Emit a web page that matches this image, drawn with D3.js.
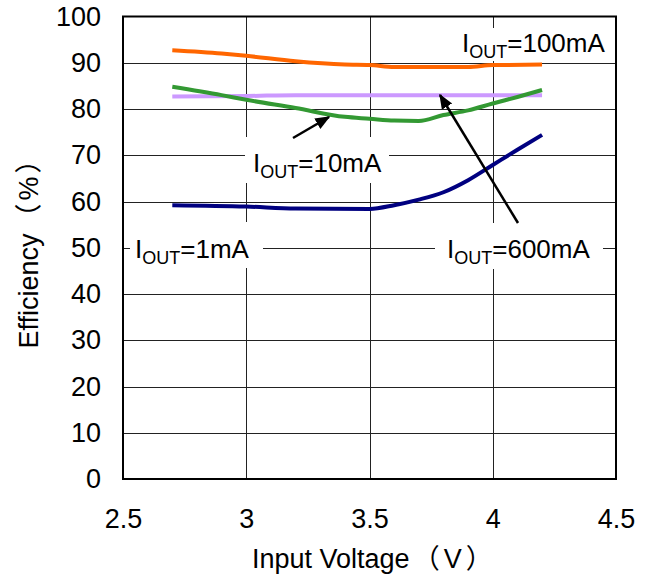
<!DOCTYPE html>
<html>
<head>
<meta charset="utf-8">
<script src="https://cdn.jsdelivr.net/npm/d3@7"></script>
<style>
  html, body { margin: 0; padding: 0; background: #fff; }
  svg { display: block; }
</style>
</head>
<body>
<svg id="chart" width="656" height="576"></svg>
<script>
// Efficiency vs input voltage, one curve per load current
const xTicks = [2.5, 3, 3.5, 4, 4.5];
const yTicks = [0, 10, 20, 30, 40, 50, 60, 70, 80, 90, 100];

const vin100 = [2.7, 2.9, 3.0, 3.2, 3.4, 3.5, 3.6, 3.8, 3.9, 4.0, 4.2];
const eff100 = [92.7, 92.0, 91.5, 90.3, 89.6, 89.5, 89.1, 89.1, 89.1, 89.5, 89.6];

const vin600 = [2.7, 3.0, 3.2, 3.5, 4.0, 4.2];
const eff600 = [82.7, 82.8, 83.0, 83.0, 83.0, 83.0];

const vin10 = [2.7, 2.9, 3.0, 3.2, 3.4, 3.5, 3.6, 3.7, 3.8, 3.9, 4.0, 4.1, 4.2];
const eff10 = [84.8, 83.0, 82.0, 80.2, 78.3, 77.9, 77.5, 77.4, 78.7, 79.7, 81.2, 82.6, 84.1];

const vin1 = [2.7, 3.0, 3.2, 3.5, 3.6, 3.7, 3.8, 3.9, 4.0, 4.1, 4.2];
const eff1 = [59.2, 58.9, 58.5, 58.4, 59.2, 60.4, 62.0, 64.6, 67.9, 71.2, 74.4];

const seriesNames = ["100mA", "600mA", "10mA", "1mA"];
const seriesColors = ["#ff6600", "#cc99ff", "#339933", "#000080"];

const svg = d3.select("#chart");
const plotL = 123, plotR = 616, plotT = 16.5, plotB = 479;

const x = d3.scaleLinear().domain([2.5, 4.5]).range([plotL, plotR]);
const y = d3.scaleLinear().domain([0, 100]).range([plotB, plotT]);

const FONT = "'Liberation Sans', Arial, sans-serif";
const TITLE_FONT = "'Liberation Sans', 'Noto Sans CJK SC', sans-serif";

// grid
const grid = svg.append("g").attr("stroke", "#222").attr("stroke-width", 1);
grid.selectAll("line.h").data(yTicks.filter(d => d > 0 && d < 100)).join("line")
  .attr("x1", plotL).attr("x2", plotR)
  .attr("y1", d => Math.round(y(d)) + 0.5).attr("y2", d => Math.round(y(d)) + 0.5);
grid.selectAll("line.v").data(xTicks.filter(d => d > 2.5 && d < 4.5)).join("line")
  .attr("y1", plotT).attr("y2", plotB)
  .attr("x1", d => Math.round(x(d)) + 0.5).attr("x2", d => Math.round(x(d)) + 0.5);

// axes (tick labels only; the frame is drawn separately)
const yAxis = svg.append("g").attr("transform", `translate(${plotL},0)`)
  .call(d3.axisLeft(y).tickValues(yTicks).tickSize(0).tickPadding(22));
yAxis.select(".domain").remove();
yAxis.selectAll("text").attr("font-family", FONT).attr("font-size", 27).attr("fill", "#000");

const xAxis = svg.append("g").attr("transform", `translate(0,${plotB})`)
  .call(d3.axisBottom(x).tickValues(xTicks).tickSize(0).tickPadding(30).tickFormat(d3.format("")));
xAxis.select(".domain").remove();
xAxis.selectAll("text").attr("font-family", FONT).attr("font-size", 27).attr("fill", "#000");

// axis titles
const xt = svg.append("text")
  .attr("x", 252).attr("y", 568)
  .attr("font-family", TITLE_FONT)
  .attr("font-size", 27);
xt.append("tspan").text("Input Voltage");
xt.append("tspan").attr("dx", 3).attr("letter-spacing", 4).text("（V）");

const yt = svg.append("text")
  .attr("transform", `translate(38,246) rotate(-90)`)
  .attr("text-anchor", "middle")
  .attr("font-family", TITLE_FONT)
  .attr("font-size", 27);
yt.append("tspan").text("Efficiency");
yt.append("tspan").attr("dx", 3).attr("letter-spacing", 3).text("（%）");

// label definitions: box and text anchor
const labels = [
  { name: "100mA", box: [453, 28, 162, 33], tx: 462, ty: 52 },
  { name: "10mA",  box: [245, 137, 144, 46], tx: 253, ty: 172 },
  { name: "1mA",   box: [130, 222, 133, 46], tx: 135, ty: 258 },
  { name: "600mA", box: [435, 223, 168, 46], tx: 447, ty: 258 }
];

svg.append("g").selectAll("rect").data(labels).join("rect")
  .attr("x", d => d.box[0]).attr("y", d => d.box[1])
  .attr("width", d => d.box[2]).attr("height", d => d.box[3])
  .attr("fill", "#fff");

// curves
const allSeries = [
  { v: vin100, e: eff100 },
  { v: vin600, e: eff600 },
  { v: vin10, e: eff10 },
  { v: vin1, e: eff1 }
];
const line = d3.line().x(d => x(d[0])).y(d => y(d[1])).curve(d3.curveMonotoneX);
svg.append("g").selectAll("path").data(allSeries).join("path")
  .attr("d", s => line(s.v.map((v, i) => [v, s.e[i]])))
  .attr("fill", "none")
  .attr("stroke", (s, i) => seriesColors[i])
  .attr("stroke-width", 4)
  .attr("stroke-linejoin", "round");

// frame
svg.append("rect")
  .attr("x", plotL).attr("y", plotT)
  .attr("width", plotR - plotL).attr("height", plotB - plotT)
  .attr("fill", "none").attr("stroke", "#000").attr("stroke-width", 2);

// label text with subscript
const lt = svg.append("g").selectAll("text").data(labels).join("text")
  .attr("x", d => d.tx).attr("y", d => d.ty)
  .attr("font-family", FONT).attr("font-size", 26).attr("fill", "#000");
lt.append("tspan").text("I");
lt.append("tspan").attr("font-size", 18).attr("dy", 6).text("OUT");
lt.append("tspan").attr("dy", -6).text(d => "=" + d.name);

// arrows
const defs = svg.append("defs");
defs.append("marker").attr("id", "head")
  .attr("viewBox", "0 0 10 10").attr("refX", 9).attr("refY", 5)
  .attr("markerWidth", 6).attr("markerHeight", 6).attr("orient", "auto")
  .attr("markerUnits", "strokeWidth")
  .append("path").attr("d", "M0,1 L10,5 L0,9 Z").attr("fill", "#000");

const arrows = [
  [293, 138, 329, 117],
  [518, 223, 440, 95]
];
svg.append("g").selectAll("line").data(arrows).join("line")
  .attr("x1", d => d[0]).attr("y1", d => d[1])
  .attr("x2", d => d[2]).attr("y2", d => d[3])
  .attr("stroke", "#000").attr("stroke-width", 2.5)
  .attr("marker-end", "url(#head)");
</script>
</body>
</html>
